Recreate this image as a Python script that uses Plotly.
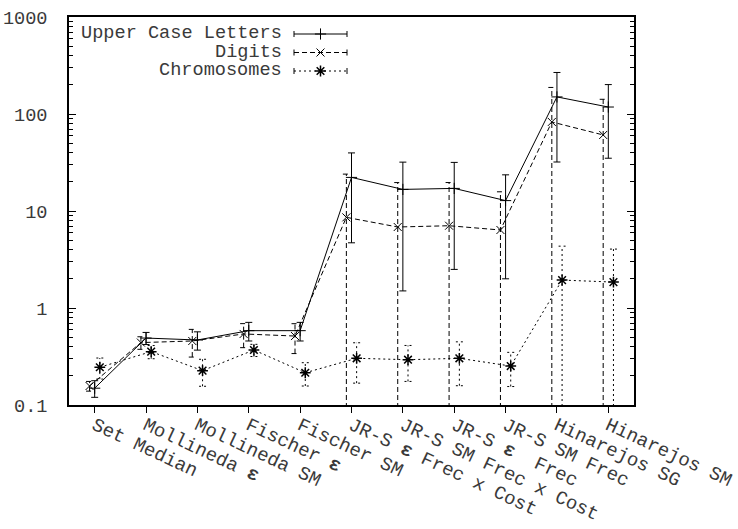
import plotly.graph_objects as go

categories = ["Set Median", "Mollineda <b>ε</b>", "Mollineda SM", "Fischer <b>ε</b>", "Fischer SM",
              "JR-S <b>ε</b> Frec x Cost", "JR-S SM Frec x Cost", "JR-S <b>ε</b>  Frec", "JR-S SM Frec",
              "Hinarejos SG", "Hinarejos SM"]

upper_mean = [0.149, 0.49, 0.468, 0.584, 0.584, 22.2, 16.7, 17.1, 12.8, 150, 118]
upper_std = [0.029, 0.07, 0.10, 0.127, 0.127, 17.5, 15.2, 14.6, 10.8, 118, 83]

digits_mean = [0.157, 0.44, 0.457, 0.54, 0.514, 8.6, 6.84, 7.05, 6.37, 82.8, 60.8]
digits_std = [0.018, 0.065, 0.145, 0.15, 0.175, 15.4, 12.8, 12.6, 9.4, 105, 81]

chrom_mean = [0.245, 0.355, 0.226, 0.369, 0.215, 0.303, 0.293, 0.303, 0.252, 1.94, 1.85]
chrom_std = [0.06, 0.055, 0.07, 0.053, 0.058, 0.135, 0.118, 0.145, 0.097, 2.4, 2.2]

y_tickvals = [0.1, 1, 10, 100, 1000]
y_ticktext = ["0.1", "1", "10", "100", "1000"]
y_minorvals = [m * d for d in (0.1, 1, 10, 100) for m in range(2, 10)]

series = [
    ("Upper Case Letters", upper_mean, upper_std, 0.0, "solid", "cross-thin"),
    ("Digits", digits_mean, digits_std, -0.1, "5px,3px", "x-thin"),
    ("Chromosomes", chrom_mean, chrom_std, 0.1, "2px,3px", "asterisk"),
]

FONT = "Liberation Mono, Courier New, monospace"
FS = 18.6
FS_X = 19
TXT = "#3a3a3a"
CAP = 0.068
FLOOR = 1e-4

# plot area in pixels
W, H = 738, 529
L, R, T, B = 69, 634, 17, 405


def err_segments(xs, means, stds):
    ex, ey = [], []
    for x, m, s in zip(xs, means, stds):
        lo, hi = m - s, m + s
        ex += [x, x, None]
        ey += [lo if lo > 0 else FLOOR, hi, None]
        ex += [x - CAP, x + CAP, None]
        ey += [hi, hi, None]
        if lo > 0:
            ex += [x - CAP, x + CAP, None]
            ey += [lo, lo, None]
    return ex, ey


def marker_style(sym):
    if sym == "asterisk":
        return dict(symbol=sym, size=9, color="black", line=dict(color="black", width=1.5))
    return dict(symbol=sym, size=8, color="black", line=dict(color="black", width=1))


fig = go.Figure()
for name, mean, std, off, dash, sym in series:
    xs = [i + off for i in range(len(categories))]
    ex, ey = err_segments(xs, mean, std)
    fig.add_trace(go.Scatter(x=ex, y=ey, mode="lines", line=dict(color="black", width=1, dash=dash),
                             hoverinfo="skip", showlegend=False))
    fig.add_trace(go.Scatter(x=xs, y=mean, mode="lines+markers", name=name,
                             line=dict(color="black", width=1, dash=dash),
                             marker=marker_style(sym), showlegend=False))


def px2paper_x(px):
    return (px - L) / (R - L)


def px2paper_y(py):
    return (B - py) / (B - T)


# legend built manually (text right-aligned, sample to the right)
rows = [34, 52.5, 71]
s0, s1, sm = 294, 347, 320.5
for (name, mean, std, off, dash, sym), py in zip(series, rows):
    fig.add_annotation(x=px2paper_x(284), y=px2paper_y(py), xref="paper", yref="paper",
                       text=name, showarrow=False, xanchor="right", yanchor="middle",
                       font=dict(family=FONT, size=FS, color=TXT))
    fig.add_shape(type="line", xref="paper", yref="paper",
                  x0=px2paper_x(s0), x1=px2paper_x(s1), y0=px2paper_y(py), y1=px2paper_y(py),
                  line=dict(color="black", width=1, dash=dash))
    for sx in (s0, s1):
        fig.add_shape(type="line", xref="paper", yref="paper",
                      x0=px2paper_x(sx), x1=px2paper_x(sx), y0=px2paper_y(py - 3), y1=px2paper_y(py + 3),
                      line=dict(color="black", width=1))
    fig.add_trace(go.Scatter(x=[px2paper_x(sm)], y=[px2paper_y(py)], xaxis="x2", yaxis="y2",
                             mode="markers", showlegend=False, hoverinfo="skip",
                             marker=marker_style(sym)))

fig.update_layout(
    template="none",
    width=W, height=H, autosize=False,
    margin=dict(l=L, r=W - R, t=T, b=H - B, pad=0),
    paper_bgcolor="white", plot_bgcolor="white",
    font=dict(family=FONT, size=FS, color=TXT),
    showlegend=False,
    xaxis=dict(range=[-0.5, 10.5], tickmode="array", tickvals=list(range(len(categories))),
               ticktext=categories, tickangle=25, ticks="outside", ticklen=6, tickcolor="black",
               showline=True, linecolor="black", linewidth=1.5, mirror=True, showgrid=False,
               zeroline=False, automargin=False, ticklabelstandoff=-6, ticklabeloverflow="allow",
               tickfont=dict(family=FONT, size=FS_X, color=TXT)),
    yaxis=dict(type="log", range=[-1, 3], tickmode="array", tickvals=y_tickvals, ticktext=y_ticktext,
               ticks="inside", ticklen=7, tickcolor="black", showline=True, linecolor="black",
               linewidth=1.5, mirror="ticks", showgrid=False, zeroline=False, automargin=False,
               ticklabelstandoff=16,
               minor=dict(tickmode="array", tickvals=y_minorvals, ticks="inside", ticklen=4,
                          tickcolor="black", showgrid=False),
               tickfont=dict(family=FONT, size=FS, color=TXT)),
    xaxis2=dict(range=[0, 1], overlaying="x", visible=False, fixedrange=True),
    yaxis2=dict(range=[0, 1], overlaying="y", visible=False, fixedrange=True),
)

fig.write_html("out.html", config={"displayModeBar": False},
               post_script="document.body.style.margin='0';document.body.style.overflow='hidden';")
